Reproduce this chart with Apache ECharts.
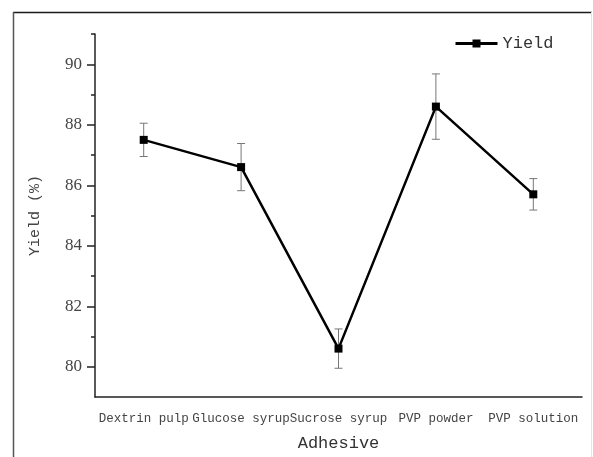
<!DOCTYPE html>
<html>
<head>
<meta charset="utf-8">
<style>
  html, body { margin: 0; padding: 0; background: #fff; }
  #chart { width: 593px; height: 457px; }
</style>
<script src="https://cdn.jsdelivr.net/npm/echarts@6/dist/echarts.min.js"></script>
</head>
<body>
<div id="chart"></div>
<script>
// Adhesive types on the x axis
const categories = ['Dextrin pulp', 'Glucose syrup', 'Sucrose syrup', 'PVP powder', 'PVP solution'];
// Mean yield (%) for each adhesive
const yieldValues = [87.5, 86.6, 80.6, 88.6, 85.7];
// Standard deviation for each mean
const yieldErrors = [0.55, 0.78, 0.65, 1.08, 0.52];
// Labelled (major) and unlabelled (minor) y ticks
const majorTicks = [80, 82, 84, 86, 88, 90];
const minorTicks = [81, 83, 85, 87, 89, 91];

const chart = echarts.init(document.getElementById('chart'), null, { renderer: 'canvas' });

const serifFont = '"Liberation Serif", "DejaVu Serif", serif';
const monoFont = '"Liberation Mono", "DejaVu Sans Mono", monospace';

const errorData = categories.map((c, i) => [i, yieldValues[i] - yieldErrors[i], yieldValues[i] + yieldErrors[i]]);

const option = {
  animation: false,
  backgroundColor: '#ffffff',
  graphic: [
    { type: 'line', shape: { x1: 13, y1: 12.5, x2: 592, y2: 12.5 }, style: { stroke: '#1a1a1a', lineWidth: 1.5 }, silent: true },
    { type: 'line', shape: { x1: 13.5, y1: 12, x2: 13.5, y2: 457 }, style: { stroke: '#555555', lineWidth: 1.5 }, silent: true },
    { type: 'line', shape: { x1: 591.5, y1: 12, x2: 591.5, y2: 457 }, style: { stroke: '#e4e4e4', lineWidth: 1 }, silent: true }
  ],
  legend: {
    left: 449,
    top: 30,
    itemWidth: 42,
    itemHeight: 10,
    itemGap: 10,
    lineStyle: { width: 3, color: '#000' },
    textStyle: { fontFamily: monoFont, fontSize: 17, color: '#333' },
    data: ['Yield']
  },
  grid: { left: 95, right: 11, top: 34, bottom: 60, containLabel: false },
  xAxis: {
    type: 'category',
    data: categories,
    boundaryGap: true,
    name: 'Adhesive',
    nameLocation: 'middle',
    nameGap: 38,
    nameTextStyle: { fontFamily: monoFont, fontSize: 17, color: '#333' },
    axisLine: { lineStyle: { color: '#222', width: 1.5 } },
    axisTick: { alignWithLabel: true, inside: false, length: 6, lineStyle: { color: '#222', width: 1.5 } },
    axisLabel: { interval: 0, margin: 15, fontFamily: monoFont, fontSize: 12.5, color: '#444' },
    splitLine: { show: false }
  },
  yAxis: [
    {
      type: 'value',
      min: 79,
      max: 91,
      name: 'Yield (%)',
      nameLocation: 'middle',
      nameGap: 52,
      nameTextStyle: { fontFamily: monoFont, fontSize: 15, color: '#444' },
      axisLine: { show: true, lineStyle: { color: '#222', width: 1.5 } },
      axisTick: { show: true, length: 8, customValues: majorTicks, lineStyle: { color: '#222', width: 1.5 } },
      axisLabel: { customValues: majorTicks, margin: 13, fontFamily: serifFont, fontSize: 17, color: '#444' },
      splitLine: { show: false }
    },
    {
      type: 'value',
      min: 79,
      max: 91,
      position: 'left',
      axisLine: { show: false },
      axisTick: { show: true, length: 4, customValues: minorTicks, lineStyle: { color: '#222', width: 1.5 } },
      axisLabel: { show: false },
      splitLine: { show: false }
    }
  ],
  series: [
    {
      name: 'Yield error',
      type: 'custom',
      z: 1,
      data: errorData,
      renderItem: function (params, api) {
        const x = api.value(0);
        const lo = api.coord([x, api.value(1)]);
        const hi = api.coord([x, api.value(2)]);
        const half = 4;
        const style = { stroke: '#777', lineWidth: 1 };
        return {
          type: 'group',
          children: [
            { type: 'line', shape: { x1: lo[0], y1: lo[1], x2: hi[0], y2: hi[1] }, style: style },
            { type: 'line', shape: { x1: hi[0] - half, y1: hi[1], x2: hi[0] + half, y2: hi[1] }, style: style },
            { type: 'line', shape: { x1: lo[0] - half, y1: lo[1], x2: lo[0] + half, y2: lo[1] }, style: style }
          ]
        };
      }
    },
    {
      name: 'Yield',
      type: 'line',
      z: 3,
      data: yieldValues,
      symbol: 'rect',
      symbolSize: 8,
      lineStyle: { color: '#000', width: 2.5 },
      itemStyle: { color: '#000' }
    }
  ]
};

chart.setOption(option);
</script>
</body>
</html>
